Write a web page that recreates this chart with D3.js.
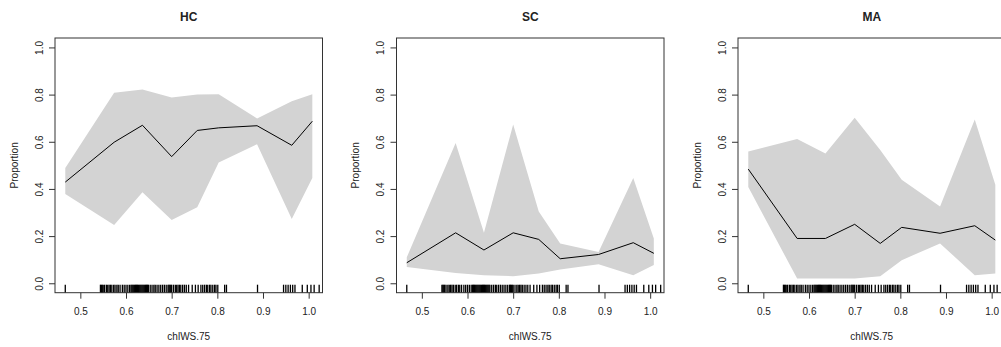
<!DOCTYPE html>
<html>
<head>
<meta charset="utf-8">
<script src="https://cdn.jsdelivr.net/npm/d3@7"></script>
<style>
  html, body { margin: 0; padding: 0; background: #fff; }
  svg { display: block; }
  text { font-family: "Liberation Sans", Arial, sans-serif; fill: #222; }
</style>
</head>
<body>
<svg id="chart" width="1001" height="347"></svg>
<script>
// Group titles, one panel each
const panelTitles = ["HC", "SC", "MA"];

// Bin centres of chlWS.75 shared by all panels
const binX = [0.467, 0.574, 0.636, 0.700, 0.756, 0.803, 0.887, 0.963, 1.008];

// Estimated proportion and its interval per bin
const hcMean  = [0.429, 0.598, 0.670, 0.537, 0.648, 0.659, 0.668, 0.585, 0.687];
const hcUpper = [0.489, 0.808, 0.822, 0.788, 0.800, 0.801, 0.699, 0.772, 0.801];
const hcLower = [0.378, 0.247, 0.386, 0.268, 0.322, 0.512, 0.590, 0.273, 0.446];

const scMean  = [0.087, 0.214, 0.141, 0.214, 0.186, 0.104, 0.122, 0.172, 0.127];
const scUpper = [0.110, 0.595, 0.214, 0.673, 0.304, 0.169, 0.133, 0.446, 0.190];
const scLower = [0.069, 0.044, 0.034, 0.030, 0.041, 0.058, 0.081, 0.034, 0.077];

const maMean  = [0.484, 0.190, 0.190, 0.250, 0.169, 0.237, 0.212, 0.244, 0.183];
const maUpper = [0.559, 0.612, 0.550, 0.702, 0.565, 0.439, 0.325, 0.694, 0.418];
const maLower = [0.408, 0.020, 0.020, 0.020, 0.030, 0.098, 0.169, 0.034, 0.041];

// Observed chlWS.75 values shown as a rug
const rugX = [
  0.467,
  0.544, 0.546, 0.548, 0.550, 0.553, 0.557, 0.560, 0.563, 0.566, 0.569, 0.573, 0.576, 0.580, 0.583, 0.587,
  0.592, 0.596, 0.600, 0.604, 0.608,
  0.611, 0.613, 0.615, 0.617, 0.619, 0.621, 0.623, 0.625, 0.627, 0.629, 0.631, 0.633, 0.635, 0.637, 0.639,
  0.641, 0.643, 0.645, 0.647, 0.649,
  0.653, 0.657, 0.661, 0.664, 0.668, 0.672, 0.676, 0.680, 0.684, 0.688,
  0.692, 0.694, 0.696, 0.698, 0.700,
  0.704, 0.708, 0.711, 0.714, 0.717, 0.720, 0.724, 0.728, 0.732, 0.737,
  0.745, 0.752, 0.758, 0.764, 0.768, 0.772, 0.776, 0.779, 0.783, 0.786, 0.790, 0.794, 0.797, 0.801,
  0.816, 0.820,
  0.888,
  0.945, 0.950, 0.955, 0.960, 0.965, 0.970,
  0.986, 0.997, 1.005, 1.012, 1.023
];

const xTicks = [0.5, 0.6, 0.7, 0.8, 0.9, 1.0];
const yTicks = [0.0, 0.2, 0.4, 0.6, 0.8, 1.0];

const xLabel = "chlWS.75";
const yLabel = "Proportion";

const panels = [
  { title: panelTitles[0], mean: hcMean, upper: hcUpper, lower: hcLower },
  { title: panelTitles[1], mean: scMean, upper: scUpper, lower: scLower },
  { title: panelTitles[2], mean: maMean, upper: maUpper, lower: maLower }
];

// Layout
const panelLeft = [55, 396.5, 738];
const plotW = 267.5;
const plotTop = 38;
const plotBottom = 292.7;

const svg = d3.select("#chart");

panels.forEach((p, i) => {
  const left = panelLeft[i];
  const x = d3.scaleLinear().domain([0.4445, 1.0303]).range([left, left + plotW]);
  const y = d3.scaleLinear().domain([-0.04, 1.04]).range([plotBottom, plotTop]);

  const g = svg.append("g");

  const rows = binX.map((bx, k) => ({ x: bx, m: p.mean[k], lo: p.lower[k], hi: p.upper[k] }));

  // interval band
  g.append("path")
    .datum(rows)
    .attr("fill", "#d3d3d3")
    .attr("stroke", "none")
    .attr("d", d3.area().x(d => x(d.x)).y0(d => y(d.lo)).y1(d => y(d.hi)));

  // estimate line
  g.append("path")
    .datum(rows)
    .attr("fill", "none")
    .attr("stroke", "#000")
    .attr("stroke-width", 1)
    .attr("d", d3.line().x(d => x(d.x)).y(d => y(d.m)));

  // rug
  g.append("g").selectAll("line")
    .data(rugX)
    .join("line")
    .attr("x1", d => x(d))
    .attr("x2", d => x(d))
    .attr("y1", plotBottom)
    .attr("y2", plotBottom - 8)
    .attr("stroke", "#000")
    .attr("stroke-width", 1.3);

  // x axis
  const xa = g.append("g")
    .attr("transform", `translate(0,${plotBottom})`)
    .call(d3.axisBottom(x).tickValues(xTicks).tickFormat(d3.format(".1f")).tickSize(6).tickPadding(9.5));
  xa.select(".domain").remove();
  xa.selectAll(".tick line").attr("stroke", "#333");
  xa.selectAll("text").attr("font-size", 10).attr("font-family", null).style("fill", "#222");

  // y axis with labels parallel to the axis
  const ya = g.append("g")
    .attr("transform", `translate(${left},0)`)
    .call(d3.axisLeft(y).tickValues(yTicks).tickFormat(d3.format(".1f")).tickSize(6));
  ya.select(".domain").remove();
  ya.selectAll(".tick line").attr("stroke", "#333");
  ya.selectAll("text")
    .attr("font-size", 10)
    .attr("font-family", null)
    .attr("x", null)
    .attr("dy", "0.35em")
    .attr("text-anchor", "middle")
    .attr("transform", "translate(-16,0) rotate(-90)")
    .style("fill", "#222");

  // frame
  g.append("rect")
    .attr("x", left)
    .attr("y", plotTop)
    .attr("width", plotW)
    .attr("height", plotBottom - plotTop)
    .attr("fill", "none")
    .attr("stroke", "#333")
    .attr("stroke-width", 1);

  // title
  g.append("text")
    .attr("x", left + plotW / 2)
    .attr("y", 21)
    .attr("text-anchor", "middle")
    .attr("font-size", 12)
    .attr("font-weight", "bold")
    .text(p.title);

  // axis titles
  g.append("text")
    .attr("x", left + plotW / 2)
    .attr("y", 340)
    .attr("text-anchor", "middle")
    .attr("font-size", 10)
    .text(xLabel);

  g.append("text")
    .attr("transform", `translate(${left - 41},${(plotTop + plotBottom) / 2}) rotate(-90)`)
    .attr("dy", "0.35em")
    .attr("text-anchor", "middle")
    .attr("font-size", 10)
    .text(yLabel);
});
</script>
</body>
</html>
